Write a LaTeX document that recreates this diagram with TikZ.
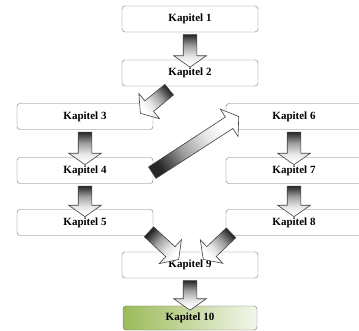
\documentclass[tikz,border=0pt]{standalone}
\usepackage{fontspec}
\setmainfont{Liberation Serif}
\usepackage{tikz}
\usetikzlibrary{shapes.arrows,calc}

\definecolor{kapgreen}{RGB}{155,187,89}
\definecolor{kaplight}{RGB}{242,246,234}
\pgfdeclarehorizontalshading{pfeilshade}{100bp}{color(0bp)=(black!85); color(25bp)=(black!85);
  color(42bp)=(gray!75); color(58bp)=(gray!20); color(70bp)=(white); color(100bp)=(white)}

\tikzset{
  kap/.style={draw=gray!90!black, rounded corners=3pt, fill=white, minimum width=136pt,
    minimum height=26pt, inner sep=0pt, font=\fontsize{11}{12}\selectfont\bfseries},
  pfeil/.style={single arrow, draw=gray!50!black, line width=.6pt, inner xsep=0pt,
    inner ysep=6.5pt, single arrow head extend=9.5pt, single arrow tip angle=110,
    shading=pfeilshade},
  fat/.style={to path={let \p1=(\tikztostart), \p2=(\tikztotarget),
    \n1={atan2(\y2-\y1,\x2-\x1)}, \n2={veclen(\x2-\x1,\y2-\y1)} in
    node[pfeil, minimum height=\n2, rotate=\n1, shading angle=\n1] at ($(\tikztostart)!.5!(\tikztotarget)$) {}}}
}

\begin{document}
\begin{tikzpicture}[x = 1pt, y = -1pt]
    \clip (0,0) rectangle (359,331);
    \node[kap] (k1) at (190,19) {Kapitel 1};
    \node[kap] (k2) at (190,73) {Kapitel 2};
    \node[kap] (k3) at (85,116.5) {Kapitel 3};
    \node[kap] (k4) at (85,170.5) {Kapitel 4};
    \node[kap] (k5) at (85,222.5) {Kapitel 5};
    \node[kap] (k6) at (294,116.5) {Kapitel 6};
    \node[kap] (k7) at (294,170.5) {Kapitel 7};
    \node[kap] (k8) at (294,222.5) {Kapitel 8};
    \node[kap] (k9) at (190,265) {Kapitel 9};
    \node[kap, minimum width=134pt, minimum height=24pt, left color=kapgreen, right color=kaplight] (k10) at (190,318) {Kapitel 10};
        % Arrows
    \path (k1.south) to[fat] ([yshift=-5pt]k2.north);
    \path ($(k2.south)+(-19,2)$) to[fat] ($(k3.north east)+(-11,8.5)$);
    \path (k3.south) to[fat] ([yshift=-5pt]k4.north);
    \path (k4.south) to[fat] ([yshift=-5pt]k5.north);
    \path ($(k4.east)+(-3,3.5)$) to[fat] ($(k6.north west)+(11,14.5)$);
    \path (k6.south) to[fat] ([yshift=-5pt]k7.north);
    \path (k7.south) to[fat] ([yshift=-5pt]k8.north);
    \path ($(k5.south east)+(-6,-5.5)$) to[fat] ($(k9.north)+(-13,6)$);
    \path ($(k8.south west)+(7,-4.5)$) to[fat] ($(k9.north)+(15,6)$);
    \path (k9.south) to[fat] ([yshift=-2pt]k10.north);
  \end{tikzpicture}
\end{document}
